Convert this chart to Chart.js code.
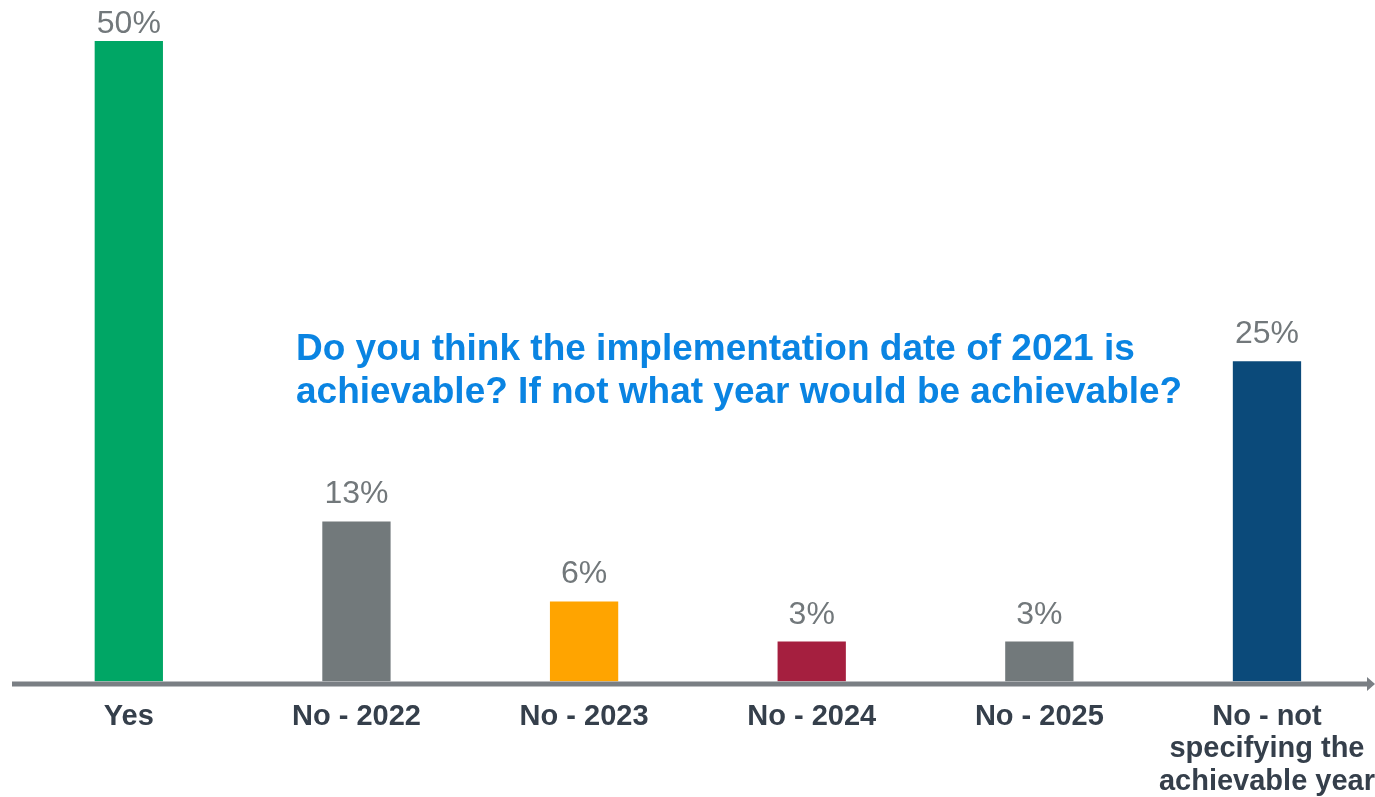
<!DOCTYPE html>
<html>
<head>
<meta charset="utf-8">
<script src="https://cdn.jsdelivr.net/npm/chart.js@4.4.1/dist/chart.umd.min.js"></script>
<style>
  html, body { margin: 0; padding: 0; background: #fff; overflow: hidden; }
  #wrap { position: relative; width: 1386px; height: 809px; }
</style>
</head>
<body>
<div id="wrap"><canvas id="chart"></canvas></div>
<script>
const categories = ['Yes', 'No - 2022', 'No - 2023', 'No - 2024', 'No - 2025', ['No - not', 'specifying the', 'achievable year']];
const shares = [50, 12.5, 6.25, 3.125, 3.125, 25];
const barColors = ['#00a665', '#72797b', '#ffa400', '#a51f3f', '#72797b', '#0b4a7a'];
const question = ['Do you think the implementation date of 2021 is', 'achievable? If not what year would be achievable?'];

const FONT = '"Liberation Sans", Arial, sans-serif';

// value labels on top of bars (the tallest one is squeezed down to fit)
const valueLabels = {
    id: 'valueLabels',
    afterDatasetsDraw(chart) {
        const ctx = chart.ctx;
        const meta = chart.getDatasetMeta(0);
        ctx.save();
        ctx.font = '32px ' + FONT;
        ctx.fillStyle = '#72787b';
        ctx.textAlign = 'center';
        ctx.textBaseline = 'alphabetic';
        meta.data.forEach((bar, i) => {
            ctx.fillText(Math.round(shares[i]) + '%', bar.x, Math.max(bar.y - 18, 33));
        });
        ctx.restore();
    }
};

// x axis line with arrow + question text
const decorations = {
    id: 'decorations',
    afterDraw(chart) {
        const ctx = chart.ctx;
        const y = chart.chartArea.bottom + 2.5;
        ctx.save();
        ctx.strokeStyle = '#7a7f84';
        ctx.lineWidth = 5;
        ctx.beginPath();
        ctx.moveTo(12, y);
        ctx.lineTo(1370, y);
        ctx.stroke();
        ctx.fillStyle = '#7a7f84';
        ctx.beginPath();
        ctx.moveTo(1375, y);
        ctx.lineTo(1367, y - 7);
        ctx.lineTo(1367, y + 7);
        ctx.closePath();
        ctx.fill();

        ctx.font = 'bold 37px ' + FONT;
        ctx.fillStyle = '#0a84e2';
        ctx.textAlign = 'left';
        ctx.textBaseline = 'middle';
        ctx.fillText(question[0], 296, 350);
        ctx.fillText(question[1], 296, 393);
        ctx.restore();
    }
};

new Chart(document.getElementById('chart'), {
    type: 'bar',
    data: {
        labels: categories,
        datasets: [{
            data: shares,
            backgroundColor: barColors,
            barPercentage: 0.3,
            categoryPercentage: 1.0
        }]
    },
    options: {
        responsive: true,
        maintainAspectRatio: false,
        animation: false,
        layout: { padding: { left: 15, right: 0, top: 41, bottom: 0 } },
        plugins: { legend: { display: false }, tooltip: { enabled: false } },
        scales: {
            x: {
                grid: { display: false },
                border: { display: false },
                ticks: {
                    color: '#353f4b',
                    font: { family: FONT, size: 29, weight: 'bold', lineHeight: 1.12 },
                    padding: 11,
                    maxRotation: 0,
                    autoSkip: false
                }
            },
            y: {
                display: false,
                min: 0,
                max: 50
            }
        }
    },
    plugins: [valueLabels, decorations]
});
</script>
</body>
</html>
